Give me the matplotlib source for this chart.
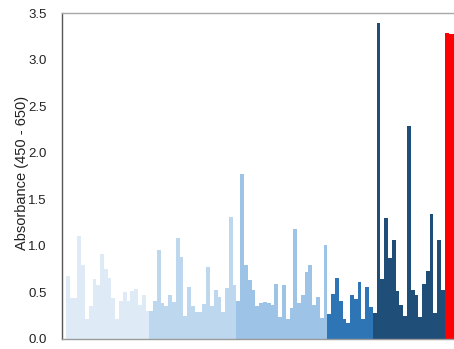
import matplotlib
matplotlib.use("Agg")
import matplotlib.pyplot as plt
import numpy as np

plt.rcParams["font.family"] = ["Liberation Sans", "DejaVu Sans"]

# Absorbance readings, grouped by sample set
group_a = [0.68, 0.44, 0.44, 1.11, 0.79, 0.21, 0.35, 0.64, 0.58, 0.91, 0.75,
           0.66, 0.44, 0.21, 0.41, 0.50, 0.41, 0.51, 0.54, 0.37, 0.47, 0.30]
group_b = [0.30, 0.41, 0.96, 0.39, 0.35, 0.47, 0.40, 1.08, 0.88, 0.25, 0.56,
           0.35, 0.29, 0.29, 0.38, 0.77, 0.35, 0.53, 0.45, 0.29, 0.55, 1.31, 0.58]
group_c = [0.41, 1.77, 0.79, 0.63, 0.53, 0.35, 0.39, 0.40, 0.39, 0.37, 0.59,
           0.24, 0.58, 0.21, 0.33, 1.18, 0.39, 0.47, 0.72, 0.79, 0.36, 0.45,
           0.22, 1.01]
group_d = [0.27, 0.48, 0.65, 0.41, 0.21, 0.17, 0.47, 0.43, 0.61, 0.21, 0.56, 0.34]
group_e = [0.28, 3.39, 0.64, 1.30, 0.87, 1.06, 0.52, 0.37, 0.25, 2.29, 0.53,
           0.47, 0.24, 0.59, 0.73, 1.34, 0.28, 1.06, 0.53]
control = [3.29, 3.28, 3.27]

groups = [group_a, group_b, group_c, group_d, group_e, control]
colors = ["#deebf7", "#bdd7ee", "#9dc3e6", "#2e75b6", "#1f4e79", "#ff0000"]

y_ticks = [0.0, 0.5, 1.0, 1.5, 2.0, 2.5, 3.0, 3.5]
y_label = "Absorbance (450 - 650)"

fig = plt.figure(figsize=(4.54, 3.49), dpi=100)
ax = fig.add_axes([0.1366, 0.0287, 0.877, 0.934])

start = 0
for vals, col in zip(groups, colors):
    x = np.arange(start, start + len(vals))
    ax.bar(x, vals, width=1.0, color=col, linewidth=0, align="center")
    start += len(vals)

ax.set_xlim(-1.55, start - 0.5 + 1.05)
ax.set_ylim(0, 3.5)
ax.set_yticks(y_ticks)
ax.set_yticklabels([f"{t:.1f}" for t in y_ticks])
ax.set_xticks([])
ax.tick_params(axis="y", length=0, pad=11, labelsize=9.5, labelcolor="#222222")
ax.set_ylabel(y_label, fontsize=10.5, color="#222222")
ax.yaxis.set_label_coords(-0.084, 0.51)

ax.spines["left"].set_color("#555555")
ax.spines["bottom"].set_color("#9a9a9a")
ax.spines["top"].set_color("#a8a8a8")
ax.spines["right"].set_visible(False)
for s in ax.spines.values():
    s.set_linewidth(1.0)

fig.savefig("out.png", dpi=100)
